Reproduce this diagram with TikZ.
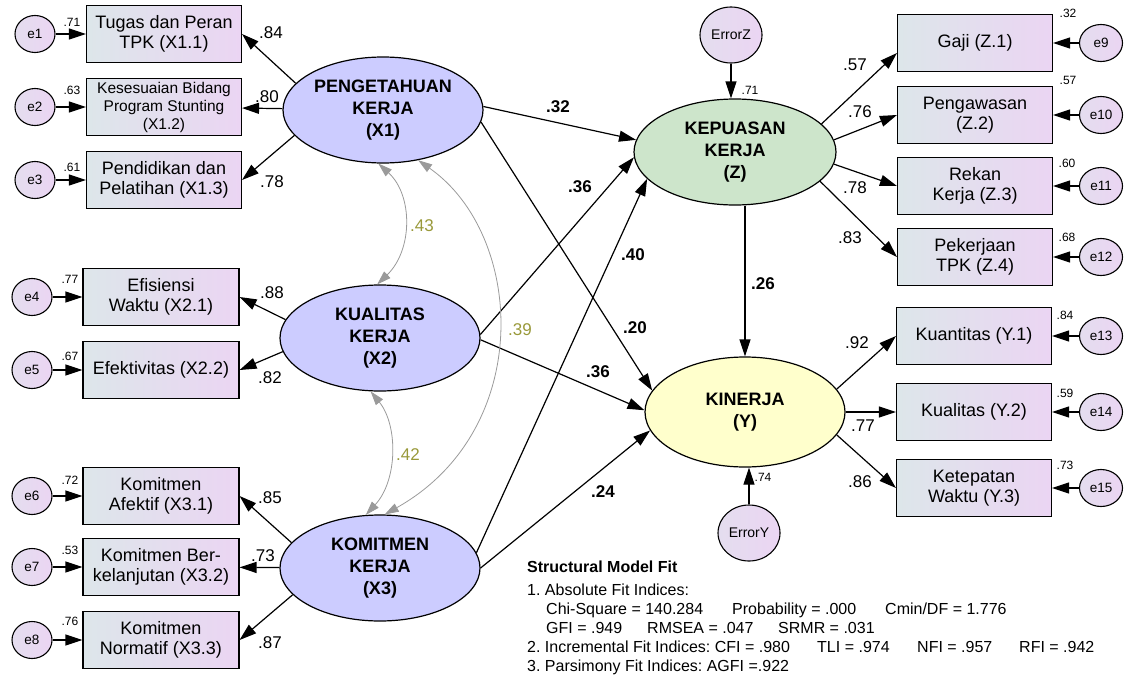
\documentclass[tikz,border=0pt]{standalone}
\usepackage{fontspec}
\setmainfont{Liberation Sans}
\usetikzlibrary{shapes.geometric,arrows.meta,calc}
\definecolor{latX}{HTML}{CCCCFF}
\definecolor{latZ}{HTML}{CDE5CB}
\definecolor{latY}{HTML}{FFFFCC}
\definecolor{boxL}{HTML}{DDE6EA}
\definecolor{boxR}{HTML}{EBD5F3}
\definecolor{covc}{HTML}{9A9A9A}
\definecolor{covl}{HTML}{99993A}
\frenchspacing
\begin{document}
\begin{tikzpicture}[x=1pt,y=-1pt,
  obs/.style={draw, line width=1.1pt, rectangle, minimum width=155pt, minimum height=57pt,
    inner sep=1pt, align=center, left color=boxL, right color=boxR,
    font=\fontsize{18}{20}\selectfont},
  err/.style={draw, line width=1.1pt, ellipse, minimum width=40pt, minimum height=37pt,
    inner sep=0pt, left color=boxL!50!boxR, right color=boxR, font=\fontsize{13.5}{15}\selectfont},
  errr/.style={err, minimum width=43pt, minimum height=37pt},
  erl/.style={draw, line width=1.1pt, ellipse, minimum width=62pt, minimum height=56pt,
    inner sep=0pt, left color=boxL!50!boxR, right color=boxR, font=\fontsize{14}{16}\selectfont},
  lat/.style={draw, line width=1.2pt, ellipse, minimum width=200pt, minimum height=106pt,
    inner sep=0pt, align=center, font=\bfseries\fontsize{18}{22}\selectfont},
  arr/.style={line width=1.2pt, -{Triangle[length=17pt,width=11pt]}},
  cov/.style={line width=0.8pt, draw=covc, {Triangle[length=14pt,width=9pt,fill=covc,color=covc]}-{Triangle[length=14pt,width=9pt,fill=covc,color=covc]}},
  lab/.style={inner sep=0pt, font=\fontsize{17}{20}\selectfont},
  blab/.style={inner sep=0pt, font=\bfseries\fontsize{17}{20}\selectfont},
  rsq/.style={inner sep=0pt, font=\fontsize{12}{14}\selectfont},
  clab/.style={inner sep=0pt, text=covl, font=\fontsize{17}{20}\selectfont},
  fit/.style={inner sep=0pt, anchor=base west, font=\frenchspacing\fontsize{16}{19}\selectfont},
]
\useasboundingbox (0,0) rectangle (1131,677);

% latent variables
\node[lat, fill=latX] (X1) at (383,110) {PENGETAHUAN\\KERJA\\(X1)};
\node[lat, fill=latX] (X2) at (380,338) {KUALITAS\\KERJA\\(X2)};
\node[lat, fill=latX] (X3) at (380,568) {KOMITMEN\\KERJA\\(X3)};
\node[lat, fill=latZ, minimum width=202pt] (Z) at (735,152) {KEPUASAN\\KERJA\\(Z)};
\node[lat, fill=latY, minimum height=110pt] (Y) at (745,412) {KINERJA\\(Y)};

% observed indicators
\node[obs] (x11) at (164,34) {Tugas dan Peran\\TPK (X1.1)};
\node[obs, font=\fontsize{15.5}{18}\selectfont] (x12) at (164,107) {Kesesuaian Bidang\\Program Stunting\\(X1.2)};
\node[obs] (x13) at (164,180) {Pendidikan dan\\Pelatihan (X1.3)};
\node[obs, minimum width=156pt] (x21) at (161,297) {Efisiensi\\Waktu (X2.1)};
\node[obs, minimum width=156pt] (x22) at (161,370) {Efektivitas (X2.2)};
\node[obs, minimum width=156pt] (x31) at (161,496) {Komitmen\\Afektif (X3.1)};
\node[obs, minimum width=156pt] (x32) at (161,567) {Komitmen Ber-\\kelanjutan (X3.2)};
\node[obs, minimum width=156pt] (x33) at (161,640) {Komitmen\\Normatif (X3.3)};
\node[obs] (z1) at (975,43) {Gaji (Z.1)};
\node[obs] (z2) at (975,115) {Pengawasan\\(Z.2)};
\node[obs] (z3) at (975,186) {Rekan\\Kerja (Z.3)};
\node[obs] (z4) at (975,257) {Pekerjaan\\TPK (Z.4)};
\node[obs] (y1) at (974,336) {Kuantitas (Y.1)};
\node[obs] (y2) at (974,412) {Kualitas (Y.2)};
\node[obs] (y3) at (974,488) {Ketepatan\\Waktu (Y.3)};

% error terms
\node[err] (e1) at (35,34) {e1};
\node[err] (e2) at (35,107) {e2};
\node[err] (e3) at (35,180) {e3};
\node[err] (e4) at (32,297) {e4};
\node[err] (e5) at (32,370) {e5};
\node[err] (e6) at (32,496) {e6};
\node[err] (e7) at (32,567) {e7};
\node[err] (e8) at (32,640) {e8};
\node[errr] (e9) at (1101,43) {e9};
\node[errr] (e10) at (1101,115) {e10};
\node[errr] (e11) at (1101,186) {e11};
\node[errr] (e12) at (1101,257) {e12};
\node[errr] (e13) at (1101,336) {e13};
\node[errr] (e14) at (1101,412) {e14};
\node[errr] (e15) at (1101,488) {e15};
\node[erl] (eZ) at (731,35) {ErrorZ};
\node[erl] (eY) at (749,533) {ErrorY};

% error arrows
\foreach \e/\b in {e1/x11,e2/x12,e3/x13,e4/x21,e5/x22,e6/x31,e7/x32,e8/x33,
                   e9/z1,e10/z2,e11/z3,e12/z4,e13/y1,e14/y2,e15/y3}
  \draw[arr] (\e) -- (\b);
\draw[arr] (eZ.south) -- (eZ.south |- Z.north);
\draw[arr] (eY.north) -- (eY.north |- Y.south);

% loadings
\draw[arr] (X1.163) -- (x11.east);
\draw[arr] (X1) -- (x12);
\draw[arr] (X1.196) -- (x13.east);
\draw[arr] (X2.169) -- (x21.east);
\draw[arr] (X2.188) -- (x22.east);
\draw[arr] (X3.164) -- (x31.east);
\draw[arr] (X3) -- (x32);
\draw[arr] (X3.197) -- (x33.east);
\draw[arr] (Z.18) -- ($(z1.west)+(0,10)$);
\draw[arr] (Z.7) -- (z2.west);
\draw[arr] (Z.-7) -- (z3.west);
\draw[arr] (Z.-19) -- (z4.west);
\draw[arr] (Y.14) -- (y1.west);
\draw[arr] (Y) -- (y2);
\draw[arr] (Y.-14) -- (y3.west);

% structural paths
\draw[arr] (X1.2) -- (Z.173);
\draw[arr] (X1.-7) -- (Y.167);
\draw[arr] (X2.2) -- (Z.183);
\draw[arr] (X2.-1) -- (Y.179);
\draw[arr] (X3.9) -- (Z.197);
\draw[arr] (X3.0) -- (Y.191);
\draw[arr] (Y.north |- Z.south) -- (Y.north);

% covariances
\draw[cov] (X1.265) .. controls (413,195) and (413,250) .. (X2.93);
\draw[cov] (X2.260) .. controls (398,425) and (398,480) .. (X3.105);
\draw[cov] (X1.305) .. controls (525,235) and (535,430) .. (X3.85);

% loading labels
\node[lab] (l11) at (271,33) {.84};
\node[lab] (l12) at (267,97) {.80};
\node[lab] (l13) at (272,182) {.78};
\node[lab] (l21) at (272,293) {.88};
\node[lab] (l22) at (270,378) {.82};
\node[lab] (l31) at (270,498) {.85};
\node[lab] (l32) at (263,556) {.73};
\node[lab] (l33) at (270,643) {.87};
\node[lab] (lz1) at (855,65) {.57};
\node[lab] (lz2) at (860,112) {.76};
\node[lab] (lz3) at (855,188) {.78};
\node[lab] (lz4) at (850,238) {.83};
\node[lab] (ly1) at (857,343) {.92};
\node[lab] (ly2) at (863,426) {.77};
\node[lab] (ly3) at (860,482) {.86};

% squared multiple correlations
\node[rsq] (r1) at (72,22) {.71};
\node[rsq] (r2) at (72,90) {.63};
\node[rsq] (r3) at (72,167) {.61};
\node[rsq] (r4) at (70,279) {.77};
\node[rsq] (r5) at (70,356) {.67};
\node[rsq] (r6) at (70,480) {.72};
\node[rsq] (r7) at (70,550) {.53};
\node[rsq] (r8) at (70,621) {.76};
\node[rsq] (r9) at (1068,13) {.32};
\node[rsq] (r10) at (1068,80) {.57};
\node[rsq] (r11) at (1067,163) {.60};
\node[rsq] (r12) at (1067,237) {.68};
\node[rsq] (r13) at (1065,315) {.84};
\node[rsq] (r14) at (1065,393) {.59};
\node[rsq] (r15) at (1065,465) {.73};
\node[rsq] (rZ) at (750,90) {.71};
\node[rsq] (rY) at (763,477) {.74};

% structural labels
\node[blab] (s1) at (558,107) {.32};
\node[blab] (s2) at (580,187) {.36};
\node[blab] (s3) at (633,255) {.40};
\node[blab] (s4) at (763,284) {.26};
\node[blab] (s5) at (635,328) {.20};
\node[blab] (s6) at (598,372) {.36};
\node[blab] (s7) at (603,492) {.24};

% covariance labels
\node[clab] (c1) at (422,226) {.43};
\node[clab] (c2) at (408,455) {.42};
\node[clab] (c3) at (520,330) {.39};

% fit indices
\node[fit, font=\frenchspacing\bfseries\fontsize{16}{19}\selectfont] (f0) at (527,572) {Structural Model Fit};
\node[fit] (f1) at (527,595) {1. Absolute Fit Indices:};
\node[fit] (f2a) at (546,614) {Chi-Square = 140.284};
\node[fit] (f2b) at (732,614) {Probability = .000};
\node[fit] (f2c) at (885,614) {Cmin/DF = 1.776};
\node[fit] (f3a) at (546,633) {GFI = .949};
\node[fit] (f3b) at (647,633) {RMSEA = .047};
\node[fit] (f3c) at (778,633) {SRMR = .031};
\node[fit] (f4a) at (527,652) {2. Incremental Fit Indices: CFI = .980};
\node[fit] (f4b) at (817,652) {TLI = .974};
\node[fit] (f4c) at (917,652) {NFI = .957};
\node[fit] (f4d) at (1019,652) {RFI = .942};
\node[fit] (f5) at (527,671) {3. Parsimony Fit Indices: AGFI =.922};
\end{tikzpicture}
\end{document}
